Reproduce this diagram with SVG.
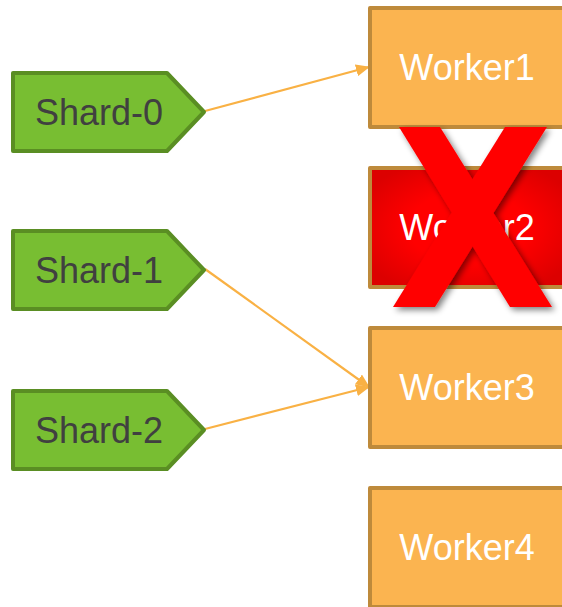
<svg xmlns="http://www.w3.org/2000/svg" width="562" height="607" viewBox="0 0 562 607">
<defs>
<style>
.shard{fill:#78BE32;stroke:#5A8E23;stroke-width:4;stroke-linejoin:round}
.stxt{font-family:"Liberation Sans",Arial,sans-serif;font-size:36px;fill:#404040;text-anchor:middle}
.worker{fill:#FBB450;stroke:#BE8A3B;stroke-width:4;stroke-linejoin:round}
.wtxt{font-family:"Liberation Sans",Arial,sans-serif;font-size:36px;fill:#FFFFFF;text-anchor:middle}
.conn{stroke:#F9B144;stroke-width:2.2;fill:none;marker-end:url(#ah)}
</style>
<marker id="ah" viewBox="0 0 14 12" refX="13" refY="6" markerWidth="14" markerHeight="12" markerUnits="userSpaceOnUse" orient="auto">
<path d="M0,0 L14,6 L0,12 Z" fill="#F9B144"/>
</marker>
<radialGradient id="redg" cx="0.5" cy="0.5" r="0.6">
<stop offset="0.5" stop-color="#FF0000"/>
<stop offset="1" stop-color="#DC0000"/>
</radialGradient>
<filter id="sh" x="-20%" y="-20%" width="140%" height="140%">
<feGaussianBlur in="SourceAlpha" stdDeviation="3"/>
<feOffset dx="3" dy="3" result="b"/>
<feComponentTransfer><feFuncA type="linear" slope="0.5"/></feComponentTransfer>
<feMerge><feMergeNode/><feMergeNode in="SourceGraphic"/></feMerge>
</filter>
</defs>
<rect width="562" height="607" fill="#FFFFFF"/>
<g id="connectors">
<line class="conn" x1="205" y1="111" x2="369" y2="67"/>
<line class="conn" x1="205" y1="269" x2="369" y2="387"/>
<line class="conn" x1="205" y1="429" x2="369" y2="387"/>
</g>
<g id="shard0">
<path class="shard" d="M13,73 H167 L204,112 L167,151 H13 Z"/>
<text class="stxt" x="99" y="125">Shard-0</text>
</g>
<g id="shard1">
<path class="shard" d="M13,231 H167 L204,270 L167,309 H13 Z"/>
<text class="stxt" x="99" y="283">Shard-1</text>
</g>
<g id="shard2">
<path class="shard" d="M13,391 H167 L204,430 L167,469 H13 Z"/>
<text class="stxt" x="99" y="443">Shard-2</text>
</g>
<g id="worker1">
<rect class="worker" x="370" y="8" width="196" height="119"/>
<text class="wtxt" x="467" y="80">Worker1</text>
</g>
<g id="worker2">
<rect class="worker" x="370" y="168" width="196" height="119" style="fill:url(#redg)"/>
<text class="wtxt" x="467" y="240">Worker2</text>
</g>
<g id="worker3">
<rect class="worker" x="370" y="328" width="196" height="119"/>
<text class="wtxt" x="467" y="400">Worker3</text>
</g>
<g id="worker4">
<rect class="worker" x="370" y="488" width="196" height="119"/>
<text class="wtxt" x="467" y="560">Worker4</text>
</g>
<g id="cross" filter="url(#sh)">
<polygon points="399,127 440,127 552,307 510,307" fill="#FF0000"/>
<polygon points="505,127 547,127 435,307 393,307" fill="#FF0000"/>
</g>
</svg>
